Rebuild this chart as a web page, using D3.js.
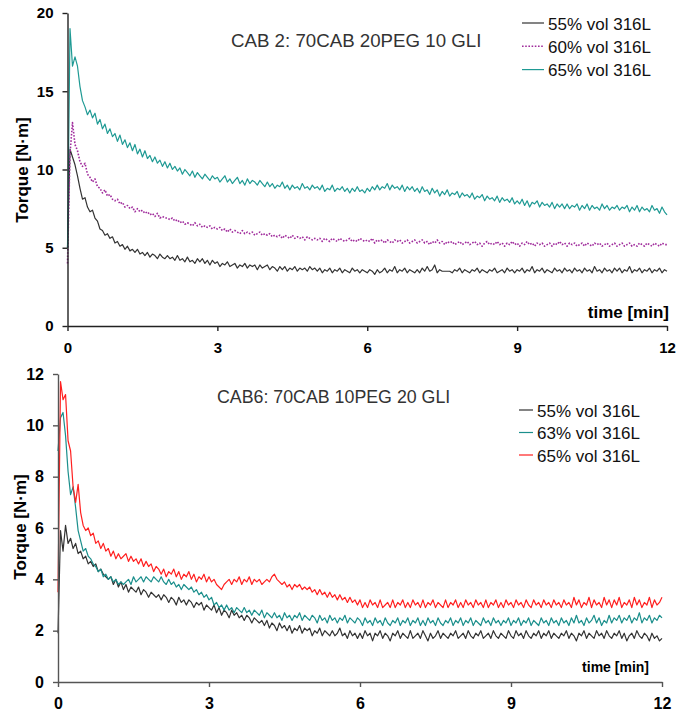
<!DOCTYPE html>
<html>
<head>
<meta charset="utf-8">
<script src="https://cdn.jsdelivr.net/npm/d3@7"></script>
<style>
body { margin: 0; background: #fff; }
text { font-family: "Liberation Sans", Arial, sans-serif; }
</style>
</head>
<body>
<script>
// sampling step of the torque curves [min]
var dt = 0.05;
var timeTicks = [0, 3, 6, 9, 12];

// --- CAB 2 : 70CAB 20PEG 10 GLI ---
var cab2Title = "CAB 2: 70CAB 20PEG 10 GLI";
var cab2Names = ["55% vol 316L", "60% vol 316L", "65% vol 316L"];
var cab2Ticks = [0, 5, 10, 15, 20];
var cab2_55 = [
 5.0,11.3,10.8,10.3,9.6,8.8,8.1,8.2,7.6,7.3,7.4,6.9,6.7,6.2,6.1,5.8,5.9,5.6,5.7,5.3,
 5.4,5.1,5.2,4.9,5.1,4.8,4.9,4.7,4.9,4.6,4.7,4.5,4.7,4.4,4.6,4.5,4.3,4.6,4.4,4.3,
 4.5,4.3,4.4,4.2,4.5,4.2,4.3,4.1,4.4,4.1,4.2,4.0,4.3,4.1,4.3,4.0,4.2,3.9,4.2,4.0,
 4.1,3.8,4.0,3.9,4.1,3.8,3.9,4.0,3.7,3.9,3.8,4.0,3.7,3.9,3.8,3.9,3.6,3.9,3.7,3.8,
 3.9,3.6,3.8,3.7,3.5,3.8,3.6,3.8,3.5,3.7,3.6,3.8,3.5,3.7,3.6,3.7,3.5,3.8,3.6,3.7,
 3.5,3.7,3.4,3.6,3.5,3.7,3.4,3.6,3.5,3.7,3.4,3.6,3.5,3.4,3.7,3.5,3.6,3.4,3.6,3.5,
 3.4,3.6,3.5,3.3,3.6,3.4,3.5,3.7,3.4,3.6,3.5,3.8,3.4,3.6,3.5,3.7,3.4,3.6,3.5,3.4,
 3.6,3.4,3.7,3.5,3.8,3.5,3.6,3.9,3.4,3.6,3.5,3.5,3.5,3.5,3.4,3.6,3.5,3.7,3.4,3.6,
 3.5,3.4,3.6,3.5,3.7,3.4,3.6,3.5,3.4,3.6,3.5,3.7,3.4,3.5,3.6,3.4,3.7,3.5,3.6,3.4,
 3.6,3.5,3.7,3.4,3.6,3.5,3.8,3.4,3.6,3.5,3.7,3.4,3.6,3.5,3.4,3.7,3.5,3.6,3.4,3.7,
 3.5,3.6,3.4,3.7,3.5,3.6,3.4,3.7,3.5,3.6,3.4,3.8,3.5,3.6,3.4,3.7,3.5,3.6,3.4,3.7,
 3.5,3.7,3.4,3.6,3.5,3.8,3.4,3.6,3.5,3.7,3.4,3.6,3.5,3.7,3.4,3.6,3.5,3.7,3.4,3.6,
 3.5];
var cab2_60 = [
 4.0,11.0,13.0,11.6,11.2,10.5,10.2,10.4,9.7,9.5,9.2,9.4,8.9,8.8,8.5,8.7,8.3,8.4,8.1,8.0,
 8.1,7.8,7.9,7.6,7.7,7.5,7.6,7.3,7.5,7.3,7.4,7.2,7.3,7.1,7.2,7.0,7.2,6.9,7.0,6.9,
 6.9,6.8,6.9,6.7,6.8,6.6,6.7,6.5,6.6,6.5,6.4,6.6,6.4,6.5,6.3,6.4,6.3,6.4,6.2,6.3,
 6.2,6.3,6.1,6.2,6.0,6.2,6.0,6.1,6.0,5.9,6.1,5.9,6.0,5.9,6.0,5.8,5.9,6.0,5.8,5.9,
 5.8,5.9,5.7,5.8,5.7,5.8,5.6,5.8,5.7,5.6,5.8,5.6,5.7,5.6,5.7,5.5,5.7,5.6,5.5,5.6,
 5.5,5.6,5.4,5.6,5.5,5.4,5.6,5.5,5.4,5.6,5.5,5.4,5.5,5.6,5.4,5.5,5.4,5.6,5.5,5.4,
 5.5,5.4,5.6,5.3,5.5,5.4,5.5,5.3,5.5,5.4,5.3,5.5,5.4,5.5,5.3,5.4,5.5,5.3,5.4,5.5,
 5.3,5.4,5.5,5.3,5.4,5.2,5.4,5.3,5.5,5.3,5.4,5.2,5.4,5.3,5.4,5.2,5.3,5.4,5.2,5.3,
 5.4,5.2,5.3,5.4,5.2,5.3,5.1,5.3,5.4,5.2,5.3,5.2,5.4,5.2,5.3,5.1,5.3,5.2,5.4,5.2,
 5.3,5.1,5.3,5.2,5.4,5.2,5.3,5.1,5.3,5.2,5.3,5.1,5.2,5.3,5.1,5.3,5.2,5.4,5.2,5.3,
 5.1,5.3,5.2,5.3,5.1,5.2,5.3,5.1,5.3,5.2,5.1,5.3,5.2,5.3,5.1,5.2,5.3,5.1,5.2,5.3,
 5.1,5.2,5.3,5.1,5.2,5.3,5.1,5.2,5.1,5.3,5.2,5.1,5.3,5.2,5.1,5.3,5.2,5.1,5.3,5.2,
 5.2];
var cab2_65 = [
 5.0,19.0,16.6,17.2,16.6,15.3,14.4,14.0,13.5,13.8,13.3,13.6,12.9,13.2,12.6,12.9,12.3,12.6,12.1,12.3,
 11.8,12.2,11.6,11.9,11.4,11.7,11.2,11.6,11.0,11.3,10.8,11.2,10.7,10.9,10.5,10.8,10.4,10.6,10.2,10.5,
 10.1,10.4,10.0,10.2,9.9,10.1,9.7,10.0,9.8,9.6,9.9,9.5,9.8,9.6,9.4,9.7,9.5,9.3,9.6,9.4,
 9.5,9.2,9.4,9.6,9.2,9.4,9.1,9.3,9.5,9.1,9.3,9.0,9.4,9.1,9.3,9.2,9.0,9.3,9.1,8.9,
 9.2,8.9,9.1,8.8,9.0,8.9,9.2,8.8,9.0,8.7,9.0,8.8,8.9,8.7,9.1,8.8,8.9,8.7,9.0,8.8,
 8.9,8.7,9.0,8.6,8.8,8.7,9.0,8.6,8.8,8.7,8.9,8.6,8.8,8.5,8.8,8.6,8.9,8.6,8.7,8.5,
 8.8,8.6,8.9,8.7,9.0,8.7,8.9,8.8,9.1,8.7,9.0,8.8,8.9,8.7,9.0,8.6,8.9,8.7,8.9,8.6,
 8.8,8.5,8.9,8.6,8.7,8.4,8.8,8.5,8.7,8.3,8.6,8.4,8.7,8.3,8.5,8.4,8.6,8.2,8.5,8.3,
 8.4,8.2,8.5,8.1,8.3,8.2,8.4,8.0,8.3,8.1,8.2,8.0,8.3,7.9,8.2,8.0,8.1,7.9,8.2,7.8,
 8.0,7.8,8.1,7.7,8.0,7.6,7.9,7.8,8.0,7.6,7.9,7.7,7.8,7.6,7.9,7.5,7.8,7.6,7.8,7.5,
 7.8,7.5,7.7,7.6,7.8,7.4,7.7,7.5,7.8,7.4,7.7,7.5,7.6,7.4,7.8,7.5,7.7,7.4,7.6,7.5,
 7.7,7.4,7.6,7.5,7.7,7.3,7.6,7.4,7.7,7.3,7.6,7.4,7.5,7.3,7.7,7.4,7.5,7.2,7.6,7.3,
 7.1];

// --- CAB6 : 70CAB 10PEG 20 GLI ---
var cab6Title = "CAB6: 70CAB 10PEG 20 GLI";
var cab6Names = ["55% vol 316L", "63% vol 316L", "65% vol 316L"];
var cab6Ticks = [0, 2, 4, 6, 8, 10, 12];
var cab6_55 = [
 1.9,5.9,5.1,6.1,5.4,5.6,5.2,5.4,5.0,5.1,4.8,4.9,4.6,4.7,4.5,4.6,4.3,4.4,4.2,4.1,
 4.0,4.1,3.8,4.0,3.7,3.9,3.6,3.8,3.5,3.7,3.6,3.5,3.7,3.4,3.6,3.5,3.3,3.5,3.4,3.3,
 3.4,3.2,3.4,3.3,3.1,3.3,3.2,3.0,3.3,3.1,3.2,3.0,3.2,3.1,2.9,3.1,3.0,3.1,2.8,3.0,
 2.9,2.8,3.0,2.7,2.9,2.6,2.8,2.7,2.5,2.8,2.6,2.7,2.5,2.6,2.4,2.6,2.5,2.3,2.5,2.4,
 2.3,2.4,2.2,2.4,2.1,2.3,2.2,2.0,2.3,2.1,2.2,2.0,2.2,1.9,2.1,2.0,2.2,1.9,2.1,2.0,
 2.1,1.8,2.0,1.9,2.1,1.8,2.0,1.9,1.8,2.0,1.8,1.9,2.1,1.8,1.9,1.7,2.0,1.8,1.9,1.7,
 1.9,1.7,2.0,1.8,1.9,1.6,1.9,1.8,2.0,1.7,1.9,1.8,1.6,1.9,1.8,2.0,1.7,1.9,1.8,1.7,
 2.0,1.7,1.8,1.9,1.7,2.0,1.8,1.6,1.9,1.7,1.8,2.0,1.7,1.9,1.8,1.7,1.9,1.8,2.0,1.7,
 1.8,1.9,1.7,2.0,1.8,1.7,1.9,1.8,2.0,1.7,1.8,1.9,1.7,2.0,1.8,1.7,1.9,1.8,1.7,2.0,
 1.8,1.7,2.0,1.8,1.9,1.7,2.0,1.8,1.7,1.9,1.8,2.0,1.7,1.9,1.8,2.0,1.7,1.9,1.8,1.7,
 1.9,1.8,2.0,1.7,1.9,1.8,1.6,1.9,1.8,2.0,1.7,1.9,1.8,1.7,2.0,1.8,1.9,1.7,2.0,1.8,
 1.7,1.9,1.8,2.0,1.7,1.9,1.6,1.8,1.9,1.7,2.0,1.8,1.7,1.9,1.8,1.6,1.9,1.7,1.8,1.6,
 1.7];
var cab6_63 = [
 9.0,10.3,10.5,9.6,8.2,7.3,7.6,6.8,5.9,5.5,5.1,5.2,4.9,4.8,4.6,4.5,4.3,4.4,4.1,4.2,
 4.0,4.1,3.9,4.0,3.8,3.9,3.8,3.9,4.0,3.8,4.1,3.9,4.0,4.1,3.9,4.1,4.0,3.9,4.1,4.0,
 3.9,4.1,3.9,3.8,4.0,3.8,3.9,3.7,3.8,3.6,3.8,3.7,3.6,3.7,3.5,3.6,3.4,3.5,3.3,3.4,
 3.2,3.3,3.0,3.1,2.9,3.0,2.8,3.0,2.8,2.9,2.7,2.9,2.8,2.7,2.9,2.7,2.8,2.6,2.8,2.7,
 2.6,2.8,2.5,2.7,2.6,2.5,2.7,2.5,2.6,2.4,2.7,2.5,2.6,2.4,2.6,2.5,2.7,2.4,2.6,2.5,
 2.4,2.6,2.5,2.3,2.6,2.4,2.5,2.3,2.6,2.4,2.5,2.3,2.5,2.4,2.6,2.3,2.5,2.4,2.3,2.5,
 2.4,2.2,2.5,2.3,2.4,2.2,2.5,2.3,2.4,2.2,2.5,2.3,2.2,2.4,2.3,2.5,2.2,2.4,2.3,2.5,
 2.2,2.4,2.3,2.5,2.2,2.4,2.2,2.5,2.3,2.4,2.2,2.5,2.3,2.2,2.4,2.3,2.5,2.2,2.4,2.3,
 2.5,2.2,2.4,2.3,2.5,2.2,2.4,2.3,2.2,2.5,2.3,2.4,2.2,2.5,2.3,2.4,2.2,2.4,2.3,2.5,
 2.2,2.4,2.3,2.5,2.2,2.4,2.3,2.5,2.2,2.4,2.3,2.2,2.5,2.3,2.4,2.2,2.5,2.3,2.4,2.2,
 2.5,2.3,2.4,2.2,2.5,2.3,2.6,2.3,2.4,2.2,2.5,2.3,2.4,2.6,2.3,2.5,2.2,2.4,2.3,2.6,
 2.3,2.5,2.4,2.6,2.3,2.5,2.4,2.6,2.3,2.5,2.4,2.7,2.3,2.5,2.4,2.6,2.3,2.5,2.4,2.6,
 2.5];
var cab6_65 = [
 3.5,11.7,11.0,11.2,9.4,9.0,7.6,7.0,7.7,6.6,6.1,5.9,6.0,5.7,5.8,5.4,5.5,5.2,5.4,5.1,
 5.2,4.9,5.1,4.8,5.0,4.8,4.9,5.0,4.7,4.9,4.7,4.8,4.6,4.8,4.5,4.7,4.5,4.6,4.3,4.5,
 4.4,4.2,4.4,4.1,4.3,4.2,4.4,4.1,4.3,4.0,4.2,4.1,4.3,4.0,4.2,3.9,4.1,4.0,4.2,3.9,
 4.1,3.9,4.0,3.8,3.7,3.6,3.8,3.9,4.0,3.8,4.0,3.9,4.1,3.8,4.0,3.9,4.1,3.8,4.0,3.9,
 4.0,3.8,3.9,4.0,3.9,4.1,4.2,4.0,3.9,3.8,3.9,3.7,3.8,3.6,3.8,3.7,3.8,3.6,3.7,3.6,
 3.7,3.5,3.6,3.4,3.6,3.4,3.5,3.3,3.5,3.3,3.4,3.2,3.4,3.2,3.3,3.1,3.3,3.1,3.2,3.0,
 3.2,2.9,3.1,2.9,3.2,3.0,3.1,2.9,3.2,2.9,3.0,3.1,2.9,3.2,2.9,3.1,3.0,3.2,2.9,3.1,
 2.9,3.2,3.0,3.1,2.9,3.2,2.9,3.1,3.0,3.2,2.9,3.1,3.0,2.9,3.2,2.9,3.1,3.0,3.2,2.9,
 3.1,2.9,3.2,3.0,3.1,2.9,3.2,3.0,3.1,2.9,3.2,2.9,3.1,3.0,3.2,2.9,3.1,2.9,3.2,3.0,
 3.1,2.9,3.2,3.0,3.1,2.9,3.2,3.0,2.9,3.2,3.0,3.1,2.9,3.2,3.0,3.1,2.9,3.2,3.0,3.1,
 2.9,3.2,3.0,3.1,2.9,3.3,3.0,3.2,2.9,3.1,3.0,3.3,2.9,3.2,3.0,3.1,2.9,3.3,3.0,3.2,
 2.9,3.2,3.0,3.3,2.9,3.1,3.0,3.2,2.9,3.3,3.0,3.2,2.9,3.1,3.0,3.3,2.9,3.2,3.0,3.1,
 3.3];

var svg = d3.select("body").append("svg").attr("width", 676).attr("height", 719);

function drawChart(cfg) {
	var x = d3.scaleLinear().domain([0, 12]).range([cfg.left, cfg.right]);
	var y = d3.scaleLinear().domain([0, cfg.ymax]).range([cfg.bottom, cfg.top]);
	var g = svg.append("g");

	var line = d3.line()
		.x(function(d, i) { return x(i * dt); })
		.y(function(d) { return y(d); });

	cfg.series.forEach(function(s) {
		g.append("path")
			.datum(s.values)
			.attr("fill", "none")
			.attr("stroke", s.color)
			.attr("stroke-width", s.dash ? 1.6 : 1.2)
			.attr("stroke-dasharray", s.dash || null)
			.attr("stroke-linejoin", "round")
			.attr("d", line);
	});

	var ya = g.append("g")
		.attr("transform", "translate(" + cfg.left + ",0)")
		.call(d3.axisLeft(y).tickValues(cfg.ticks).tickSize(5).tickSizeOuter(0).tickPadding(9));
	var xa = g.append("g")
		.attr("transform", "translate(0," + cfg.bottom + ")")
		.call(d3.axisBottom(x).tickValues(timeTicks).tickSize(5).tickSizeOuter(0).tickPadding(cfg.xpad));
	[ya, xa].forEach(function(a) {
		a.select(".domain").attr("stroke", cfg.axisColor).attr("stroke-width", 1.4);
		a.selectAll(".tick line").attr("stroke", cfg.axisColor).attr("stroke-width", 1.4);
		a.selectAll("text").attr("font-family", "Liberation Sans, Arial, sans-serif")
			.attr("font-weight", "bold").attr("font-size", cfg.tickFont).attr("fill", "#000");
	});

	// y title
	g.append("text")
		.attr("transform", "translate(" + cfg.ytitleX + "," + cfg.ytitleY + ") rotate(-90)")
		.attr("text-anchor", "middle")
		.attr("font-weight", "bold").attr("font-size", 17)
		.text("Torque [N·m]");

	// x title
	g.append("text")
		.attr("x", cfg.xtitleX).attr("y", cfg.xtitleY)
		.attr("text-anchor", "end")
		.attr("font-weight", "bold").attr("font-size", cfg.xtitleFont)
		.text("time [min]");

	// chart title
	g.append("text")
		.attr("x", cfg.titleX).attr("y", cfg.titleY)
		.attr("font-size", cfg.titleFont).attr("fill", "#333")
		.text(cfg.title);

	// legend
	var leg = g.selectAll(".leg").data(cfg.series).enter().append("g")
		.attr("transform", function(d, i) { return "translate(0," + (cfg.legY + i * cfg.legStep) + ")"; });
	leg.append("line")
		.attr("x1", cfg.legX1).attr("x2", cfg.legX2).attr("y1", 0).attr("y2", 0)
		.attr("stroke", function(d) { return d.color; })
		.attr("stroke-width", function(d) { return d.dash ? 1.6 : 1.2; })
		.attr("stroke-dasharray", function(d) { return d.dash || null; });
	leg.append("text")
		.attr("x", cfg.legX2 + 4).attr("y", 6.5)
		.attr("font-size", 17).attr("fill", "#111")
		.text(function(d) { return d.name; });
}

drawChart({
	left: 67.5, right: 667, top: 13, bottom: 326, ymax: 20, ticks: cab2Ticks,
	tickFont: 15, xpad: 11, axisColor: "#222",
	ytitleX: 28, ytitleY: 170,
	xtitleX: 669, xtitleY: 318, xtitleFont: 17,
	title: cab2Title, titleX: 231, titleY: 47, titleFont: 18.7,
	legX1: 522, legX2: 544, legY: 23, legStep: 23.3,
	series: [
		{ name: cab2Names[0], values: cab2_55, color: "#333333" },
		{ name: cab2Names[1], values: cab2_60, color: "#a02c9c", dash: "1.6,1.6" },
		{ name: cab2Names[2], values: cab2_65, color: "#1f9a94" }
	]
});

drawChart({
	left: 58, right: 662, top: 374, bottom: 682, ymax: 12, ticks: cab6Ticks,
	tickFont: 16, xpad: 11, axisColor: "#555",
	ytitleX: 26, ytitleY: 527,
	xtitleX: 649, xtitleY: 672, xtitleFont: 14,
	title: cab6Title, titleX: 217, titleY: 403, titleFont: 17.8,
	legX1: 519, legX2: 533, legY: 410, legStep: 22.5,
	series: [
		{ name: cab6Names[0], values: cab6_55, color: "#333333" },
		{ name: cab6Names[1], values: cab6_63, color: "#1b8f8c" },
		{ name: cab6Names[2], values: cab6_65, color: "#ff2020" }
	]
});
</script>
</body>
</html>
